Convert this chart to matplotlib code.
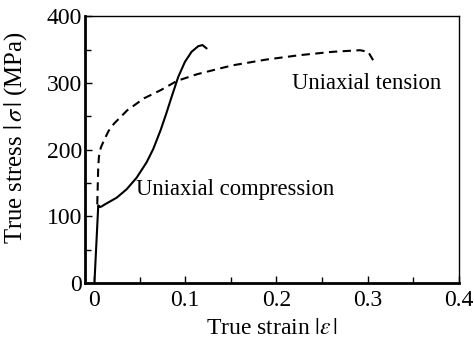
import numpy as np
import matplotlib
matplotlib.use("Agg")
import matplotlib.pyplot as plt
from matplotlib.ticker import MultipleLocator

plt.rcParams['font.family'] = ['Liberation Serif', 'DejaVu Serif']
plt.rcParams['mathtext.fontset'] = 'stix'

# uniaxial compression (solid)
comp_strain = [0.0005, 0.0047, 0.0066, 0.0085, 0.012, 0.0249, 0.0358, 0.0468, 0.0577,
               0.065, 0.073, 0.079, 0.0851, 0.0924, 0.0997, 0.107, 0.1143, 0.119, 0.1235]
comp_stress = [0, 116.5, 114, 115, 118, 128, 140.6, 158, 181,
               201, 229, 253, 279, 309, 331.5, 346.6, 355, 356.7, 351.7]

# uniaxial tension (dashed)
tens_strain = [0.0036, 0.0047, 0.0055, 0.0075, 0.011, 0.016, 0.022, 0.0365, 0.055, 0.073,
               0.091, 0.113, 0.139, 0.1527, 0.189, 0.2257, 0.262, 0.2915, 0.3006, 0.306]
tens_stress = [118, 175, 190, 203, 214, 228, 239, 259, 277, 289,
               303, 313, 322, 326.5, 335, 341.6, 346.6, 349, 346.6, 334]

fig = plt.figure(figsize=(4.74, 3.44), dpi=100)
ax = fig.add_axes([0.179, 0.177, 0.789, 0.776])

ax.plot(comp_strain, comp_stress, color='black', lw=1.5, solid_capstyle='round')
ax.plot(tens_strain, tens_stress, color='black', lw=1.5, dashes=(4, 2.6))

ax.text(0.217, 299, 'Uniaxial tension', fontsize=16.3, va='center', ha='left')
ax.text(0.046, 140, 'Uniaxial compression', fontsize=16.3, va='center', ha='left')

ax.set_xlim(-0.01, 0.4)
ax.set_ylim(0, 400)
ax.xaxis.set_minor_locator(MultipleLocator(0.05))
ax.yaxis.set_major_locator(MultipleLocator(100))
ax.yaxis.set_minor_locator(MultipleLocator(50))
ax.set_xticks([0, 0.1, 0.2, 0.3, 0.4])
ax.set_xticklabels(['0', '0.1', '0.2', '0.3', '0.4'])

ax.tick_params(which='both', direction='in', labelsize=17, top=False, right=False)
ax.tick_params(which='major', length=5, width=1)
ax.tick_params(which='minor', length=4, width=1)
ax.tick_params(axis='x', pad=5)
ax.tick_params(axis='y', pad=2)

ax.spines['left'].set_linewidth(2)
ax.spines['bottom'].set_linewidth(2)
ax.spines['top'].set_linewidth(1)
ax.spines['right'].set_linewidth(1)

ax.set_xlabel(r'True strain $|\varepsilon\,|$', fontsize=17, labelpad=5)
ax.set_ylabel(r'True stress $|\,\sigma\,|$ (MPa)', fontsize=17.8)
ax.yaxis.set_label_coords(-0.15, 0.545)

fig.savefig('out.png', dpi=100)
